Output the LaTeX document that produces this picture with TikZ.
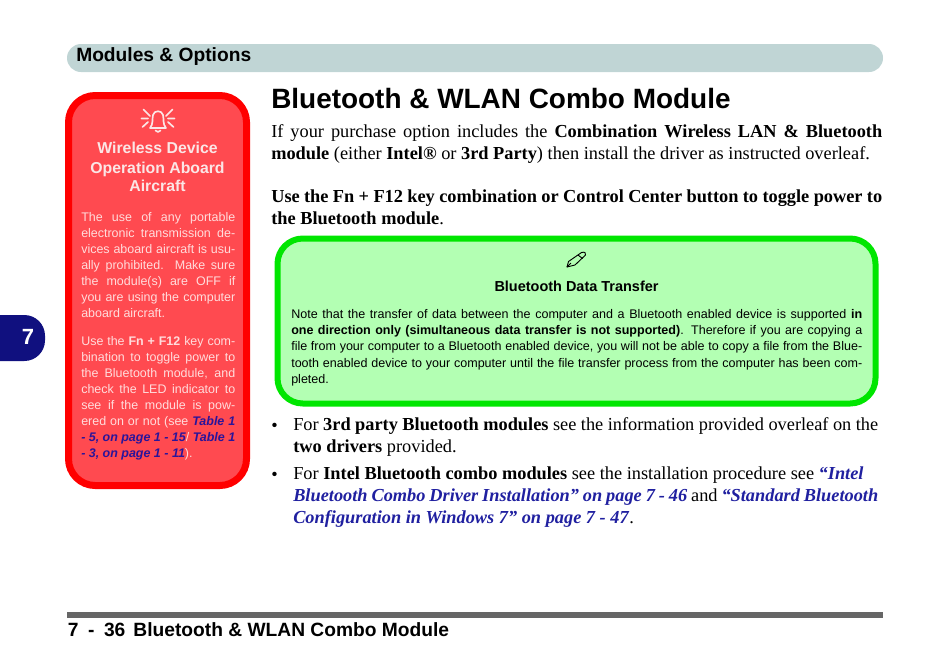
\documentclass[tikz,border=0pt]{standalone}
\usepackage{fontspec}
\setmainfont{Liberation Serif}
\setsansfont{Liberation Sans}
\definecolor{headbar}{HTML}{C0D5D5}
\definecolor{tabblue}{HTML}{10107F}
\definecolor{redline}{HTML}{FF0000}
\definecolor{redfill}{HTML}{FF4A50}
\definecolor{redtext}{HTML}{FFDCDC}
\definecolor{redtitle}{HTML}{FBE6E6}
\definecolor{redlink}{HTML}{2A149A}
\definecolor{greenline}{HTML}{00E600}
\definecolor{greenfill}{HTML}{B3FFB3}
\definecolor{linkblue}{HTML}{2020A0}
\definecolor{footbar}{HTML}{666666}
\newcommand{\rlink}[1]{\textcolor{redlink}{\textbf{\textit{#1}}}}
\newcommand{\mlink}[1]{\textcolor{linkblue}{\textbf{\textit{#1}}}}
\tikzset{
  x=0.75pt,y=-0.75pt,
  heading/.style={inner sep=0pt,anchor=base west,font=\sffamily\bfseries\fontsize{14.4pt}{16pt}\selectfont},
  mainpara/.style={inner sep=0pt,anchor=north west,align=justify,font=\fontsize{13.75pt}{16.2pt}\selectfont},
  redbody/.style={inner sep=0pt,anchor=north west,align=justify,text=redtext,text width=115.5pt,font=\sffamily\fontsize{9.35pt}{12pt}\selectfont},
  redhead/.style={inner sep=0pt,anchor=base,align=center,text=redtitle,font=\sffamily\bfseries\fontsize{11.85pt}{14.2pt}\selectfont},
  greenbody/.style={inner sep=0pt,anchor=north west,align=justify,text width=428.25pt,font=\sffamily\fontsize{9.4pt}{12.25pt}\selectfont},
  iconwhite/.style={draw=redtitle,line width=1.25pt,line cap=round,line join=round},
  iconblack/.style={draw=black,line width=0.7pt,line join=round},
}
\begin{document}
\begin{tikzpicture}
\useasboundingbox (0,0) rectangle (950,669);
% header
\fill[headbar,rounded corners=10.5pt] (67,44) rectangle (883,72);
\node[heading] (hdr) at (76,61.5) {Modules \& Options};
% chapter tab
\fill[tabblue,rounded corners=15.5pt] (-40,315) rectangle (45,361);
\node[inner sep=0pt,text=white,font=\sffamily\bfseries\fontsize{16.5pt}{18pt}\selectfont] (tab) at (28,337) {7};
% title
\node[inner sep=0pt,anchor=base west,font=\sffamily\bfseries\fontsize{20.95pt}{24pt}\selectfont] (title) at (271,108.5) {Bluetooth \& WLAN Combo Module};
% main paragraphs
\node[mainpara,text width=458.25pt] (p1) at (271,122.5) {\strut If your purchase option includes the \textbf{Combination Wireless LAN \& Bluetooth}\linebreak \textbf{module} (either \textbf{Intel®} or \textbf{3rd Party}) then install the driver as instructed overleaf.};
\node[mainpara,text width=458.25pt] (p2) at (271,187.5) {\strut \textbf{Use the Fn + F12 key combination or Control Center button to toggle power to}\linebreak \textbf{the Bluetooth module}.};
% red box
\draw[draw=redline,fill=redfill,line width=5.25pt,rounded corners=20pt] (68.5,95.5) rectangle (246.5,485.5);
\draw[iconwhite] (150,128) .. controls (153.5,124) and (152,119) .. (153,115) .. controls (154,110) and (162,110) .. (163,115) .. controls (164,119) and (162.5,124) .. (166,128) -- cycle;
\draw[iconwhite] (155.5,130.5) .. controls (156.5,132.5) and (159.5,132.5) .. (160.5,130.5);
\draw[iconwhite] (143.5,109.5) -- (150,116) (141.5,118.5) -- (148,118.5) (142.5,127) -- (148,122);
\draw[iconwhite] (172.5,109.5) -- (166,116) (174.5,118.5) -- (168,118.5) (173.5,127) -- (168,122);
\node[redhead] (rh1) at (157.5,153) {Wireless Device};
\node[redhead] (rh2) at (157.5,173) {Operation Aboard};
\node[redhead] (rh3) at (157.5,191) {Aircraft};
\node[redbody] (rb1) at (81,210) {\strut The use of any portable\linebreak electronic transmission de-\linebreak vices aboard aircraft is usu-\linebreak ally prohibited. Make sure\linebreak the module(s) are OFF if\linebreak you are using the computer\linebreak aboard aircraft.};
\node[redbody] (rb2) at (81,334.5) {\strut Use the \textbf{Fn + F12} key com-\linebreak bination to toggle power to\linebreak the Bluetooth module, and\linebreak check the LED indicator to\linebreak see if the module is pow-\linebreak ered on or not (see \rlink{Table 1}\linebreak \rlink{- 5, on page 1 - 15}/ \rlink{Table 1}\linebreak \rlink{- 3, on page 1 - 11}).};
% green box
\draw[draw=greenline,fill=greenfill,line width=4.5pt,rounded corners=19pt] (277.5,238.5) rectangle (875.5,403.5);
\draw[iconblack] (567,267) -- (568.5,261.5) -- (581.5,252.5) .. controls (584.5,251.5) and (586.5,253) .. (585.5,255) -- (575,265) -- cycle;
\draw[iconblack] (567,267) -- (571,263);
\draw[iconblack] (578,255) -- (582.5,258.5);
\node[inner sep=0pt,anchor=base,font=\sffamily\bfseries\fontsize{10.85pt}{12pt}\selectfont] (gh) at (576.5,291) {Bluetooth Data Transfer};
\node[greenbody] (gb) at (291,306.5) {\strut Note that the transfer of data between the computer and a Bluetooth enabled device is supported \textbf{in}\linebreak \textbf{one direction only (simultaneous data transfer is not supported)}. Therefore if you are copying a\linebreak file from your computer to a Bluetooth enabled device, you will not be able to copy a file from the Blue-\linebreak tooth enabled device to your computer until the file transfer process from the computer has been com-\linebreak pleted.};
% bullets
\node[mainpara,anchor=base west] (b1) at (271,431) {•};
\node[mainpara,text width=438.75pt] (bt1) at (293,415.5) {\strut For \textbf{3rd party Bluetooth modules} see the information provided overleaf on the\linebreak \textbf{two drivers} provided.};
\node[mainpara,anchor=base west] (b2) at (271,480) {•};
\node[mainpara,text width=438.75pt] (bt2) at (293,464.5) {\strut For \textbf{Intel Bluetooth combo modules} see the installation procedure see \mlink{“Intel}\\ \mlink{Bluetooth Combo Driver Installation” on page 7 - 46} and \mlink{“Standard Bluetooth}\\ \mlink{Configuration in Windows 7” on page 7 - 47}.};
% footer
\fill[footbar] (67,612) rectangle (883,618);
\node[heading] (foot) at (67.5,636.5) {7\hspace{0.5em}-\hspace{0.5em}36\hspace{0.42em}Bluetooth \& WLAN Combo Module};
\end{tikzpicture}
\end{document}
